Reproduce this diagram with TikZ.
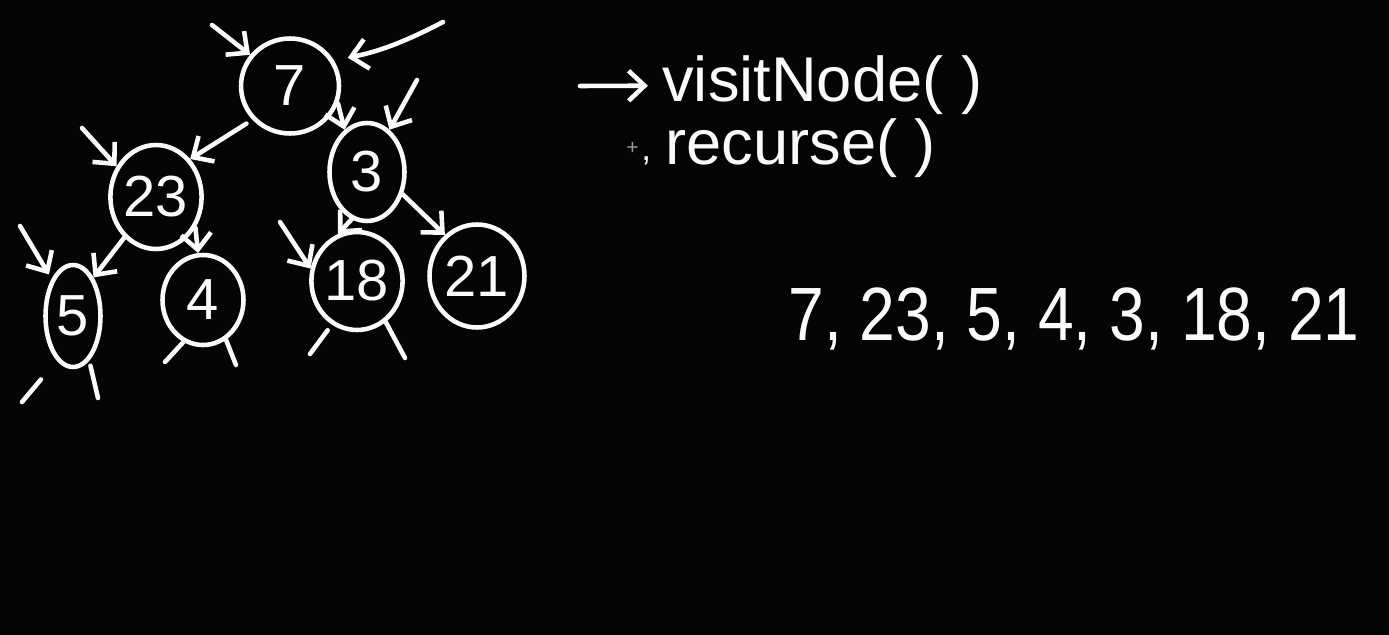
\documentclass[tikz,border=0pt]{standalone}
\usepackage{fontspec}
\setmainfont{Liberation Sans}
\newfontfamily\seqfont[FakeStretch=0.85]{Liberation Sans}
\usetikzlibrary{arrows.meta,positioning,shapes.geometric}
\definecolor{Board}{HTML}{050505}
\definecolor{Chalk}{HTML}{FAFAFA}
\definecolor{Cursor}{HTML}{9A9A9A}

\begin{document}
\begin{tikzpicture}[
  x=0.02cm,
  y=-0.02cm,
  treenode/.style={
    draw=Chalk,
    ellipse,
    line width=2.6pt,
    inner sep=0pt,
    text=Chalk,
    font=\fontsize{33}{33}\selectfont
  },
  edge/.style={
    -{Straight Barb[length=3.2mm,width=6mm]},
    line width=2.6pt,
    draw=Chalk,
    line cap=round
  },
  stub/.style={
    line width=2.6pt,
    draw=Chalk,
    line cap=round
  },
  note/.style={
    text=Chalk,
    inner sep=0pt,
    anchor=base west
  }
]

% Board
\fill[Board] (0,0) rectangle (1389,635);
\useasboundingbox (0,0) rectangle (1389,635);

% Tree
\node[treenode, minimum width=1.96cm, minimum height=1.9cm] (n7) at (290,86) {7};
\node[treenode, minimum width=1.76cm, minimum height=2.08cm] (n23) at (156,197) {23};
\node[treenode, minimum width=1.5cm, minimum height=1.96cm] (n3) at (367,172) {3};
\node[treenode, minimum width=1.1cm, minimum height=2.04cm] (n5) at (73,316) {5};
\node[treenode, minimum width=1.62cm, minimum height=1.8cm] (n4) at (203,300) {4};
\node[treenode, minimum width=1.74cm, minimum height=1.96cm] (n18) at (357,281) {18};
\node[treenode, minimum width=1.9cm, minimum height=2.06cm] (n21) at (477,276) {21};

% Tree edges
\draw[edge] (n7.-20) -- (n3.118);
\draw[edge, shorten <=4pt] (n7.222) -- (n23.48);
\draw[edge] (n3.252) -- (n18.112);
\draw[edge] (n3.-32) -- (n21.128);
\draw[edge] (n23.-128) -- (n5.62);
\draw[edge] (n23.-38) -- (n4.96);

% Visit arrows
\coordinate (v7a) at (212,25);
\coordinate (v7b) at (443,22);
\coordinate (v23) at (82,128);
\coordinate (v3) at (417,80);
\coordinate (v5) at (20,226);
\coordinate (v18) at (280,222);
\draw[edge] (v7a) -- (n7.142);
\draw[edge, shorten >=8pt] (v7b) to[bend left=8] (n7.30);
\draw[edge] (v23) -- (n23.142);
\draw[edge] (v3) -- (n3.62);
\draw[edge, shorten >=3pt] (v5) -- (n5.120);
\draw[edge] (v18) -- (n18.165);

% Empty children
\coordinate (s5l) at (22,402);
\coordinate (s5r) at (98,398);
\coordinate (s4l) at (165,362);
\coordinate (s4r) at (236,365);
\coordinate (s18l) at (310,354);
\coordinate (s18r) at (405,358);
\draw[stub, shorten <=14pt] (n5.250) -- (s5l);
\draw[stub, shorten <=3pt] (n5.-70) -- (s5r);
\draw[stub] (n4.-115) -- (s4l);
\draw[stub] (n4.-60) -- (s4r);
\draw[stub, shorten <=4pt] (n18.-120) -- (s18l);
\draw[stub] (n18.-55) -- (s18r);

% Notes
\node[note, font=\fontsize{36}{36}\selectfont] (visit) at (662,102) {visitNode( )};
\node[note, font=\fontsize{36}{36}\selectfont] (recurse) at (665,164) {recurse( )};
\node[note, text=Cursor, font=\fontsize{12}{12}\selectfont] (cursor) at (626,154) {+};
\node[note, font=\fontsize{20}{20}\selectfont] (tick) at (641,160) {,};
\coordinate (pointer) at (580,86);
\draw[edge, shorten >=8pt] (pointer) -- (visit.west);

% Visiting order
\node[note, font=\seqfont\fontsize{43}{43}\selectfont] (order) at (788,340) {7, 23, 5, 4, 3, 18, 21};

\end{tikzpicture}
\end{document}
